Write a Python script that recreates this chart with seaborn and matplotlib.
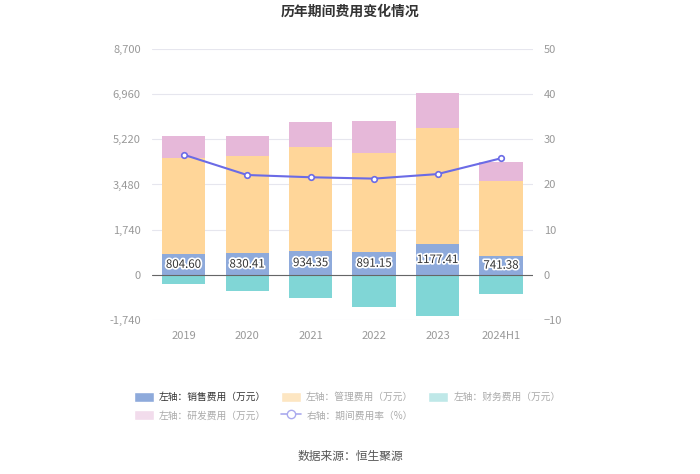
import matplotlib
matplotlib.use("Agg")
import matplotlib.pyplot as plt
import matplotlib.patheffects as pe
from matplotlib.lines import Line2D
from matplotlib.patches import Patch
import numpy as np
import pandas as pd
import seaborn as sns

categories = ["2019", "2020", "2021", "2022", "2023", "2024H1"]
sales = [804.60, 830.41, 934.35, 891.15, 1177.41, 741.38]
mgmt = [3694, 3757, 3972, 3800, 4498, 2858]
finance = [-346, -642, -900, -1230, -1603, -731]
rnd = [857, 769, 1000, 1230, 1346, 758]
rate = [26.6, 22.1, 21.6, 21.3, 22.3, 25.8]
left_ticks = [-1740, 0, 1740, 3480, 5220, 6960, 8700]
right_ticks = [-10, 0, 10, 20, 30, 40, 50]

sns.set_theme(style="white")
plt.rcParams["font.family"] = ["Noto Sans CJK SC", "DejaVu Sans"]

c_sales = "#8eaadb"
c_mgmt = "#ffd699"
c_fin = "#80d6d6"
c_rnd = "#e6b8d9"
c_line = "#6b6be6"

fig = plt.figure(figsize=(7.0, 4.74), dpi=100)
ax = fig.add_axes([0.217, 0.325, 0.544, 0.5716])

df = pd.DataFrame({"cat": categories, "sales": sales, "mgmt": mgmt,
                   "fin": finance, "rnd": rnd})
s = np.array(sales)
m = np.array(mgmt)
w = 0.68
sns.barplot(data=df, x="cat", y="sales", color=c_sales, width=w, ax=ax,
            saturation=1, linewidth=0)
sns.barplot(data=df, x="cat", y="mgmt", color=c_mgmt, width=w, ax=ax,
            saturation=1, linewidth=0, bottom=s)
sns.barplot(data=df, x="cat", y="rnd", color=c_rnd, width=w, ax=ax,
            saturation=1, linewidth=0, bottom=s + m)
sns.barplot(data=df, x="cat", y="fin", color=c_fin, width=w, ax=ax,
            saturation=1, linewidth=0)

for i, v in enumerate(sales):
    ax.text(i, v / 2, f"{v:.2f}", ha="center", va="center", fontsize=8.3,
            color="#333333",
            path_effects=[pe.withStroke(linewidth=2.5, foreground="white")])

ax.set_xlim(-0.5, 5.5)
ax.set_ylim(-1740, 8700)
ax.set_yticks(left_ticks)
ax.set_yticklabels([f"{t:,}" for t in left_ticks])
ax.set_xlabel("")
ax.set_ylabel("")
ax.grid(axis="y", color="#e6e6ee", linewidth=0.8)
ax.set_axisbelow(True)
ax.axhline(0, color="#666666", linewidth=0.8, zorder=3)
for sp in ax.spines.values():
    sp.set_visible(False)
ax.tick_params(axis="both", length=0, labelsize=8, colors="#999999", pad=8)

ax2 = ax.twinx()
sns.lineplot(x=np.arange(len(categories)), y=rate, ax=ax2, color=c_line,
             linewidth=1.5, marker="o", markersize=4, markerfacecolor="white",
             markeredgecolor=c_line, markeredgewidth=1.2, zorder=5)
ax2.set_ylim(-10, 50)
ax2.set_yticks(right_ticks)
ax2.set_ylabel("")
for sp in ax2.spines.values():
    sp.set_visible(False)
ax2.tick_params(axis="y", length=0, labelsize=8, colors="#999999", pad=8)
ax2.set_xlim(-0.5, 5.5)

fig.text(0.5, 0.975, "历年期间费用变化情况", ha="center", va="center",
         fontsize=10, fontweight="bold", color="#333333")
fig.text(0.5, 0.036, "数据来源：恒生聚源", ha="center", va="center",
         fontsize=8.5, color="#555555")

h1 = Patch(facecolor=c_sales, label="左轴：销售费用（万元）")
h2 = Patch(facecolor="#fde6c2", label="左轴：管理费用（万元）")
h3 = Patch(facecolor="#bfe8e8", label="左轴：财务费用（万元）")
h4 = Patch(facecolor="#f2dcec", label="左轴：研发费用（万元）")
h5 = Line2D([0], [0], color="#aaaaee", marker="o", markerfacecolor="white",
            markeredgecolor="#aaaaee", markersize=6, linewidth=1.2,
            label="右轴：期间费用率（%）")
handles = [h1, h4, h2, h5, h3]
leg = fig.legend(handles=handles, ncol=3, loc="center",
                 bbox_to_anchor=(0.496, 0.143), frameon=False, fontsize=7,
                 handlelength=2.1, handleheight=1.15, columnspacing=1.5,
                 labelspacing=0.85, handletextpad=0.5)
for t in leg.get_texts():
    t.set_color("#aaaaaa")
leg.get_texts()[0].set_color("#333333")

fig.savefig("out.png", dpi=100)
